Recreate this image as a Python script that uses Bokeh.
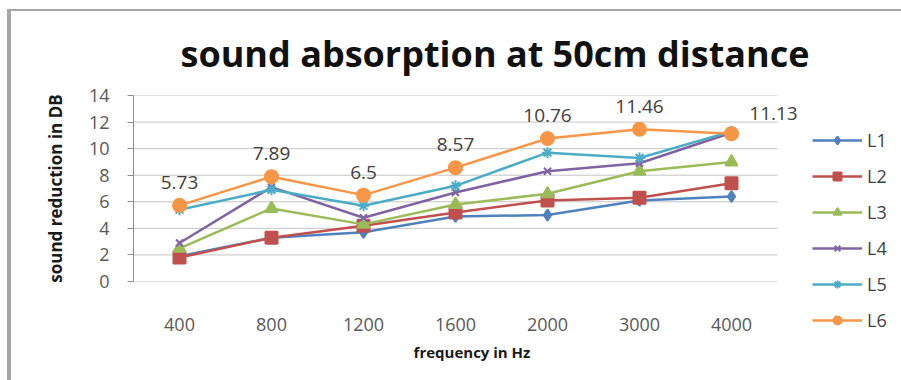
from bokeh.plotting import figure
from bokeh.models import (ColumnDataSource, Range1d, FixedTicker,
                          Legend, LegendItem)
from bokeh.core.properties import value
from bokeh.embed import file_html
from bokeh.resources import INLINE

# frequencies (Hz) measured
freqs = ["400", "800", "1200", "1600", "2000", "3000", "4000"]

# sound reduction (dB) per sample
L1 = [1.9, 3.3, 3.7, 4.9, 5.0, 6.1, 6.4]
L2 = [1.8, 3.3, 4.2, 5.2, 6.1, 6.3, 7.4]
L3 = [2.5, 5.5, 4.3, 5.8, 6.6, 8.3, 9.0]
L4 = [2.9, 7.1, 4.8, 6.7, 8.3, 8.9, 11.2]
L5 = [5.4, 6.9, 5.7, 7.2, 9.7, 9.3, 11.3]
L6 = [5.73, 7.89, 6.5, 8.57, 10.76, 11.46, 11.13]

series_names = ["L1", "L2", "L3", "L4", "L5", "L6"]
series_vals = [L1, L2, L3, L4, L5, L6]
colors = ["#4F81BD", "#C0504D", "#9BBB59", "#8064A2", "#4BACC6", "#F79646"]
markers = ["diamond", "square", "triangle", "x", "asterisk", "circle"]
marker_sizes = [11, 12, 12, 10, 11, 13]

y_ticks = [0, 2, 4, 6, 8, 10, 12, 14]
title_text = "sound absorption at 50cm distance"

FONT = "Open Sans"

# layout (pixels)
FRAME_W, FRAME_H = 677, 186
BORDER_L, BORDER_R, BORDER_T, BORDER_B = 122, 91, 84, 99
CAT_PX = 92.0                 # width of one frequency slot

x_pos = list(range(1, len(freqs) + 1))
x_end = 0.5 + FRAME_W / CAT_PX

p = figure(frame_width=FRAME_W, frame_height=FRAME_H, x_range=Range1d(0.5, x_end),
           y_range=Range1d(y_ticks[0], y_ticks[-1]), output_backend="svg",
           toolbar_location=None, title=title_text,
           min_border_left=BORDER_L, min_border_right=BORDER_R,
           min_border_top=BORDER_T, min_border_bottom=BORDER_B)
p.outline_line_color = None
p.xgrid.grid_line_color = None
p.ygrid.grid_line_color = None

# chart title
p.title.align = "left"
p.title.offset = 47
p.title.standoff = 32
p.title.vertical_align = "top"
p.title.text_font = FONT
p.title.text_font_style = "bold"
p.title.text_font_size = "36px"
p.title.text_color = "#111111"

# y axis
p.yaxis.ticker = FixedTicker(ticks=y_ticks)
p.yaxis.axis_line_color = "#8c8c8c"
p.yaxis.major_tick_line_color = "#8c8c8c"
p.yaxis.major_tick_out = 6
p.yaxis.major_tick_in = 0
p.yaxis.minor_tick_line_color = None
p.yaxis.major_label_text_font = FONT
p.yaxis.major_label_text_font_size = "18px"
p.yaxis.major_label_text_color = "#595959"
p.yaxis.major_label_standoff = 18
p.yaxis.axis_label = "sound reduction in DB"
p.yaxis.axis_label_text_font = FONT
p.yaxis.axis_label_text_font_style = "bold"
p.yaxis.axis_label_text_font_size = "17px"
p.yaxis.axis_label_text_color = "#1a1a1a"
p.yaxis.axis_label_standoff = 19

# x axis
p.xaxis.ticker = FixedTicker(ticks=x_pos)
p.xaxis.major_label_overrides = {i: f for i, f in zip(x_pos, freqs)}
p.xaxis.axis_line_color = None
p.xaxis.major_tick_line_color = None
p.xaxis.minor_tick_line_color = None
p.xaxis.major_label_text_font = FONT
p.xaxis.major_label_text_font_size = "18px"
p.xaxis.major_label_text_color = "#595959"
p.xaxis.major_label_standoff = 30
p.xaxis.axis_label = "frequency in Hz"
p.xaxis.axis_label_text_font = FONT
p.xaxis.axis_label_text_font_style = "bold"
p.xaxis.axis_label_text_font_size = "15px"
p.xaxis.axis_label_text_color = "#1a1a1a"
p.xaxis.axis_label_standoff = 8

# horizontal grid lines across the plot area
p.segment(x0=0.5, x1=len(freqs) + 0.5, y0=y_ticks, y1=y_ticks,
          line_color="#c4c4c4", line_width=1)

items = []
for name, vals, col, mk, sz in zip(series_names, series_vals, colors, markers, marker_sizes):
    src = ColumnDataSource(dict(x=x_pos, y=vals))
    ln = p.line("x", "y", source=src, line_color=col, line_width=2.5)
    sc = p.scatter("x", "y", source=src, marker=mk, size=sz,
                   fill_color=col, line_color=col, line_width=2)
    items.append(LegendItem(label=name, renderers=[ln, sc]))

# value labels on the top series
lab_src = ColumnDataSource(dict(x=x_pos[:-1], y=L6[:-1], t=[str(v) for v in L6[:-1]]))
p.text("x", "y", text="t", source=lab_src, text_font=value(FONT),
       text_font_size="19px", text_color="#404040", text_align="center",
       text_baseline="middle", y_offset=-23)
last_src = ColumnDataSource(dict(x=x_pos[-1:], y=L6[-1:], t=[str(v) for v in L6[-1:]]))
p.text("x", "y", text="t", source=last_src, text_font=value(FONT),
       text_font_size="19px", text_color="#404040", text_align="center",
       text_baseline="middle", x_offset=42, y_offset=-20)

legend = Legend(items=items, location=(2, -51), border_line_color=None,
                background_fill_alpha=0, glyph_width=50, glyph_height=20,
                label_height=20, spacing=12, label_standoff=5, label_text_font=FONT,
                label_text_font_size="18px", label_text_color="#404040",
                padding=0, margin=0)
p.add_layout(legend, "right")

# chart border (left and top edges)
p.margin = (9, 0, 0, 7)
p.styles = {"border-left": "4px solid #a6a6a6", "border-top": "2px solid #a6a6a6"}

open("out.html", "w").write(file_html(p, INLINE))
